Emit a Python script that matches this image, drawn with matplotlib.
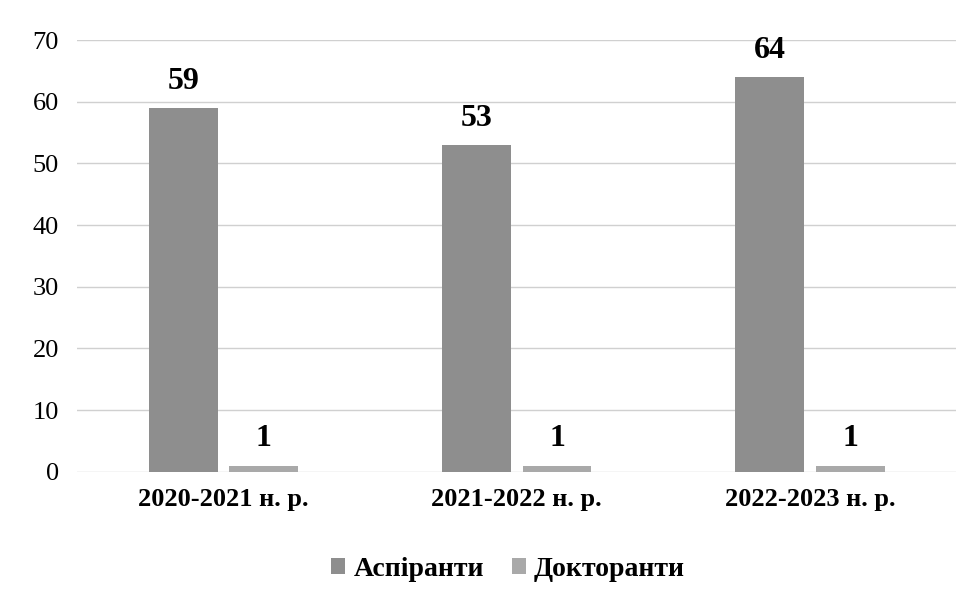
import numpy as np
import matplotlib.pyplot as plt

plt.rcParams['font.family'] = ['Liberation Serif', 'DejaVu Serif']

years = ['2020-2021 н. р.', '2021-2022 н. р.', '2022-2023 н. р.']
aspiranty = [59, 53, 64]
doktoranty = [1, 1, 1]

fig = plt.figure(figsize=(9.76, 5.98), dpi=100)
ax = fig.add_axes([0.079, 0.211, 0.901, 0.722])

x = np.arange(len(years))
w = 0.235
off = 0.137
b1 = ax.bar(x - off, aspiranty, w, color='#8e8e8e', label='Аспіранти', zorder=3)
b2 = ax.bar(x + off, doktoranty, w, color='#a9a9a9', label='Докторанти', zorder=3)

for bars in (b1, b2):
    for r in bars:
        ax.text(r.get_x() + r.get_width() / 2, r.get_height() + 2.0, str(int(r.get_height())),
                ha='center', va='bottom', fontsize=23, fontweight='bold')

ax.set_ylim(0, 70)
ax.set_xlim(-0.5, 2.5)
ax.set_yticks(range(0, 71, 10))
ax.set_xticks(x)
ax.set_xticklabels(years, fontsize=19, fontweight='bold')
ax.tick_params(axis='y', labelsize=19, length=0, pad=13)
ax.tick_params(axis='x', length=0, pad=12)
ax.grid(axis='y', color='#d0d0d0', linewidth=1, zorder=0)
for s in ax.spines.values():
    s.set_visible(False)

ax.legend(loc='upper center', bbox_to_anchor=(0.49, -0.14), ncol=2, frameon=False,
          prop={'size': 20, 'weight': 'bold'}, handlelength=0.5, handleheight=0.5,
          handletextpad=0.3, columnspacing=1.0)

fig.savefig('out.png', dpi=100, facecolor='white')
